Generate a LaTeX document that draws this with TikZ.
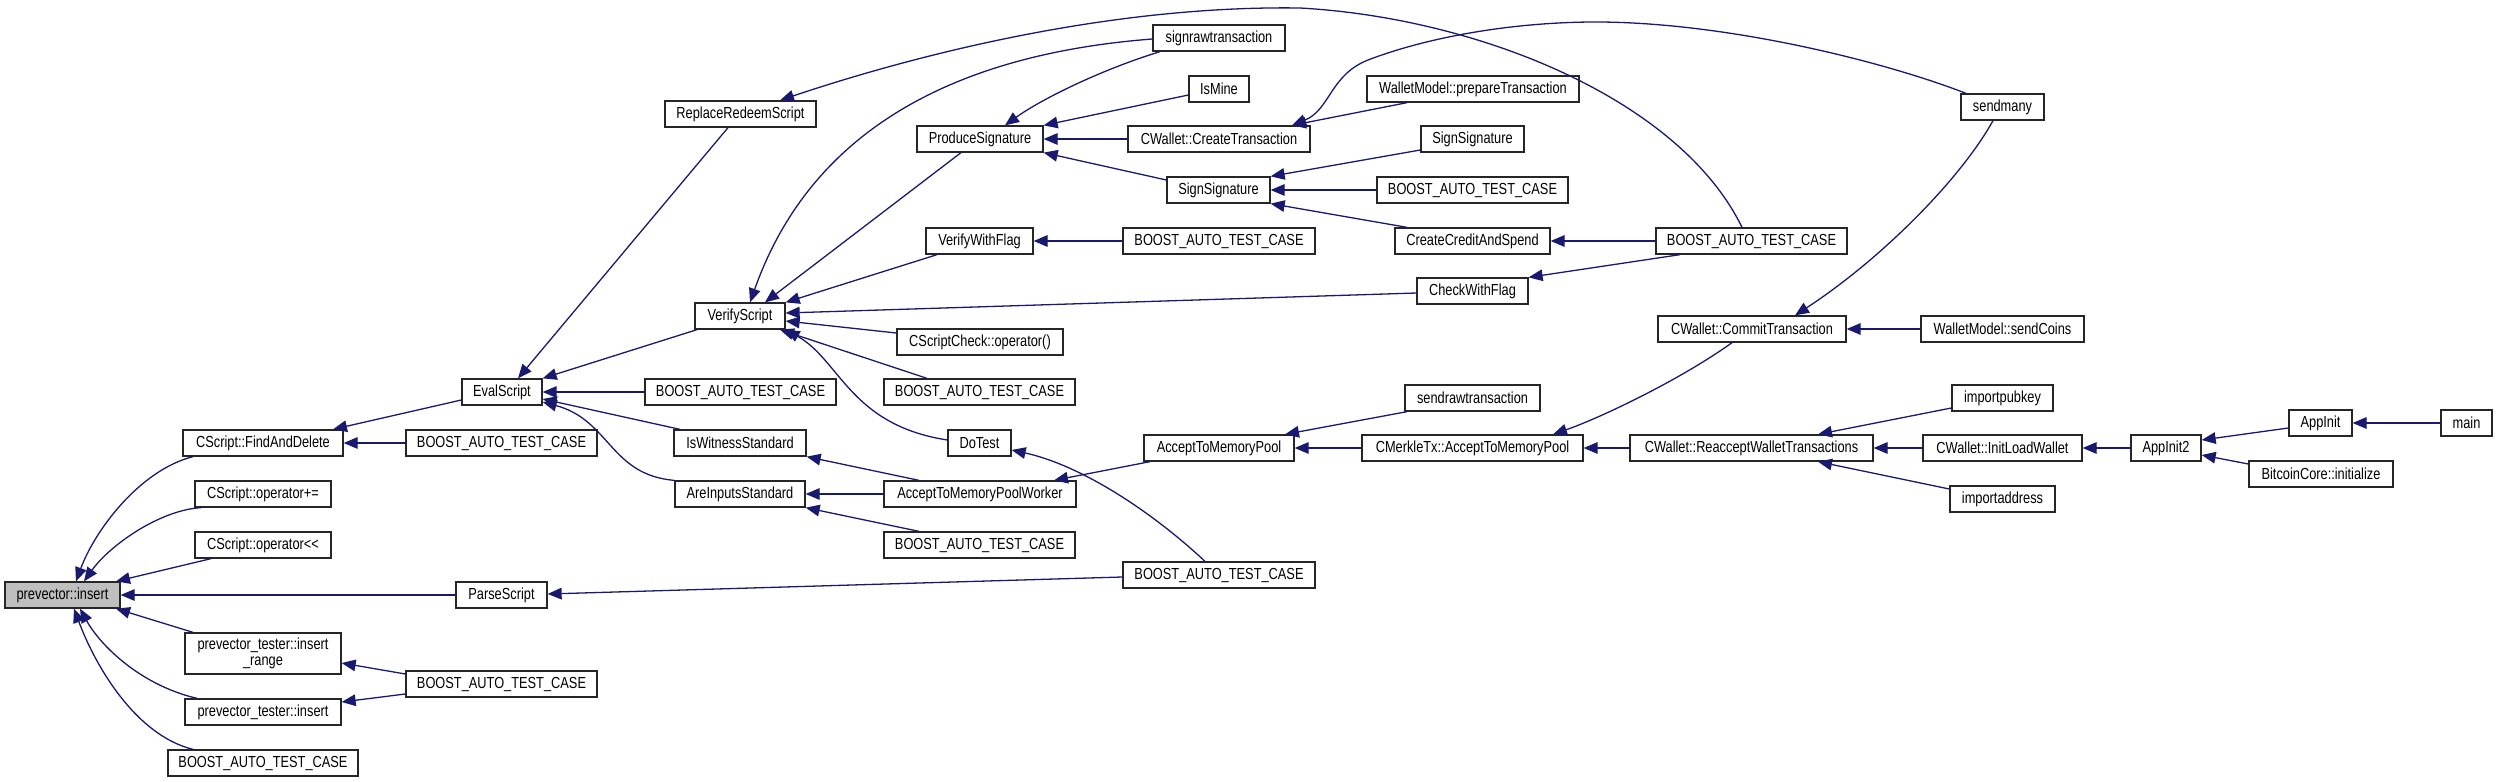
\documentclass[tikz,border=0pt]{standalone}
\usepackage{fontspec}
\setmainfont[FakeStretch=0.8]{Liberation Sans}
\usetikzlibrary{arrows.meta}
\definecolor{edgeblue}{HTML}{191970}
\definecolor{nodegray}{HTML}{BFBFBF}
\tikzset{
  box/.style={draw=black!85, line width=0.65pt, fill=white, inner sep=0pt,
    font=\fontsize{8}{7.7}\selectfont, align=center},
  calls/.style={draw=edgeblue, line width=0.65pt,
    {Triangle[length=7pt,width=5.8pt,fill=edgeblue]}-},
}
\newcommand\bx[7][]{\node[box,#1,minimum width={(#5-#3)*0.5pt},minimum height={(#6-#4)*0.5pt}] (#2) at ({(#3+#5)/2},{(#4+#6)/2}) {#7};}
\newcommand\btc{BOOST\_AUTO\_TEST\_CASE}
\begin{document}
\begin{tikzpicture}[x=0.5pt,y=-0.5pt]
\useasboundingbox (0,0) rectangle (2497,782);
% nodes
\bx[fill=nodegray]{insert}{5}{582}{120}{608}{prevector::insert}
\bx{fad}{183}{430}{343}{456}{CScript::FindAndDelete}
\bx{opadd}{195}{481}{331}{507}{CScript::operator+=}
\bx{opshl}{195}{532}{331}{558}{CScript::operator<{}<}
\bx{parse}{456}{582}{547}{608}{ParseScript}
\bx{ir}{185}{633}{341}{674}{prevector\_tester::insert\\\_range}
\bx{pti}{185}{699}{341}{725}{prevector\_tester::insert}
\bx{bA}{168}{750}{358}{776}{\btc}
\bx{bB}{406}{430}{597}{456}{\btc}
\bx{bC}{406}{671}{597}{697}{\btc}
\bx{eval}{462}{379}{542}{405}{EvalScript}
\bx{rrs}{665}{101}{816}{127}{ReplaceRedeemScript}
\bx{verify}{695}{303}{785}{329}{VerifyScript}
\bx{bD}{645}{379}{836}{405}{\btc}
\bx{iws}{674}{430}{806}{456}{IsWitnessStandard}
\bx{ais}{675}{481}{805}{507}{AreInputsStandard}
\bx{sraw}{1153}{25}{1285}{51}{signrawtransaction}
\bx{prod}{917}{126}{1043}{152}{ProduceSignature}
\bx{vwf}{926}{228}{1033}{254}{VerifyWithFlag}
\bx{csc}{897}{329}{1063}{355}{CScriptCheck::operator()}
\bx{bE}{884}{379}{1075}{405}{\btc}
\bx{dotest}{948}{430}{1011}{456}{DoTest}
\bx{atmpw}{884}{481}{1076}{507}{AcceptToMemoryPoolWorker}
\bx{bF}{884}{532}{1075}{558}{\btc}
\bx{ismine}{1189}{76}{1249}{102}{IsMine}
\bx{ctx}{1128}{126}{1310}{152}{CWallet::CreateTransaction}
\bx{ssA}{1167}{177}{1270}{203}{SignSignature}
\bx{bG}{1123}{228}{1315}{254}{\btc}
\bx{bH}{1123}{562}{1315}{588}{\btc}
\bx{atmp}{1144}{435}{1294}{461}{AcceptToMemoryPool}
\bx{wmpt}{1367}{76}{1579}{102}{WalletModel::prepareTransaction}
\bx{ssB}{1421}{126}{1524}{152}{SignSignature}
\bx{bI}{1377}{177}{1568}{203}{\btc}
\bx{ccas}{1395}{228}{1550}{254}{CreateCreditAndSpend}
\bx{cwf}{1417}{278}{1528}{304}{CheckWithFlag}
\bx{sendraw}{1405}{385}{1540}{411}{sendrawtransaction}
\bx{merkle}{1362}{435}{1583}{461}{CMerkleTx::AcceptToMemoryPool}
\bx{bJ}{1656}{228}{1847}{254}{\btc}
\bx{commit}{1658}{316}{1846}{342}{CWallet::CommitTransaction}
\bx{reaccept}{1630}{435}{1873}{461}{CWallet::ReacceptWalletTransactions}
\bx{sendmany}{1961}{94}{2044}{120}{sendmany}
\bx{sendcoins}{1921}{316}{2084}{342}{WalletModel::sendCoins}
\bx{pubkey}{1952}{385}{2053}{411}{importpubkey}
\bx{ilw}{1923}{435}{2082}{461}{CWallet::InitLoadWallet}
\bx{addr}{1950}{486}{2055}{512}{importaddress}
\bx{appinit2}{2131}{435}{2201}{461}{AppInit2}
\bx{appinit}{2289}{410}{2352}{436}{AppInit}
\bx{bci}{2249}{461}{2393}{487}{BitcoinCore::initialize}
\bx{main}{2441}{410}{2492}{436}{main}
% edges
\draw[calls] (insert.north -| 76,0) .. controls (95,530) and (140,470) .. (fad.south -| 193,0);
\draw[calls] (insert.north -| 84,0) .. controls (110,545) and (160,510) .. (opadd.south -| 201,0);
\draw[calls] (insert.north -| 116,0) -- (opshl.south -| 211,0);
\draw[calls] (insert.east |- 0,595) -- (parse.west |- 0,595);
\draw[calls] (insert.south -| 116,0) -- (ir.north -| 193,0);
\draw[calls] (insert.south -| 80,0) .. controls (100,645) and (140,685) .. (pti.north -| 197,0);
\draw[calls] (insert.south -| 74,0) .. controls (95,665) and (135,735) .. (bA.north -| 193,0);
\draw[calls] (fad.north -| 333,0) -- (eval.west |- 0,400);
\draw[calls] (fad.east |- 0,443) -- (bB.west |- 0,443);
\draw[calls] (ir.east |- 0,663) -- (bC.west |- 0,674);
\draw[calls] (pti.east |- 0,702) -- (bC.west |- 0,694);
\draw[calls] (parse.east |- 0,594) -- (bH.west |- 0,577);
\draw[calls] (eval.north -| 518,0) -- (rrs.south -| 728,0);
\draw[calls] (eval.north east) -- (verify.south -| 697,0);
\draw[calls] (eval.east |- 0,392) -- (bD.west |- 0,392);
\draw[calls] (eval.east |- 0,399) -- (iws.north -| 680,0);
\draw[calls] (eval.east |- 0,402) .. controls (610,420) and (610,475) .. (ais.north west);
\draw[calls] (rrs.north -| 780,0) .. controls (900,60) and (1100,5) .. (1300,8) .. controls (1480,18) and (1680,100) .. (bJ.north -| 1742,0);
\draw[calls] (verify.north -| 750,0) .. controls (790,190) and (880,60) .. (sraw.west |- 0,39);
\draw[calls] (verify.north -| 765,0) -- (prod.south -| 961,0);
\draw[calls] (verify.north east) -- (vwf.south -| 937,0);
\draw[calls] (verify.east |- 0,313) -- (cwf.west |- 0,293);
\draw[calls] (verify.east |- 0,321) -- (csc.west |- 0,333);
\draw[calls] (verify.south -| 780,0) -- (bE.north -| 927,0);
\draw[calls] (verify.south east) .. controls (840,360) and (850,425) .. (dotest.west |- 0,440);
\draw[calls] (prod.north -| 1005,0) .. controls (1040,100) and (1100,70) .. (sraw.south -| 1160,0);
\draw[calls] (prod.north east) -- (ismine.west |- 0,95);
\draw[calls] (prod.east |- 0,139) -- (ctx.west |- 0,139);
\draw[calls] (prod.south east) -- (ssA.west |- 0,180);
\draw[calls] (vwf.east |- 0,241) -- (bG.west |- 0,241);
\draw[calls] (ctx.north -| 1292,0) -- (wmpt.south -| 1407,0);
\draw[calls] (ctx.north -| 1292,0) .. controls (1330,110) and (1330,75) .. (1368,60) .. controls (1420,40) and (1500,23) .. (1590,22) .. controls (1720,21) and (1880,60) .. (sendmany.north -| 1966,0);
\draw[calls] (ssA.north east) -- (ssB.west |- 0,150);
\draw[calls] (ssA.east |- 0,190) -- (bI.west |- 0,190);
\draw[calls] (ssA.south east) -- (ccas.north -| 1407,0);
\draw[calls] (ccas.east |- 0,241) -- (bJ.west |- 0,241);
\draw[calls] (cwf.north east) -- (bJ.south -| 1680,0);
\draw[calls] (iws.south east) -- (atmpw.north -| 919,0);
\draw[calls] (ais.east |- 0,494) -- (atmpw.west |- 0,494);
\draw[calls] (ais.south east) -- (bF.north -| 919,0);
\draw[calls] (dotest.east |- 0,450) .. controls (1080,465) and (1150,510) .. (bH.north -| 1205,0);
\draw[calls] (atmpw.north -| 1054,0) -- (atmp.south -| 1150,0);
\draw[calls] (atmp.north -| 1285,0) -- (sendraw.south -| 1407,0);
\draw[calls] (atmp.east |- 0,448) -- (merkle.west |- 0,448);
\draw[calls] (merkle.north -| 1553,0) .. controls (1600,418) and (1680,380) .. (commit.south -| 1732,0);
\draw[calls] (merkle.east |- 0,448) -- (reaccept.west |- 0,448);
\draw[calls] (commit.north -| 1795,0) .. controls (1880,260) and (1960,180) .. (sendmany.south -| 1993,0);
\draw[calls] (commit.east |- 0,329) -- (sendcoins.west |- 0,329);
\draw[calls] (reaccept.north -| 1818,0) -- (pubkey.west |- 0,408);
\draw[calls] (reaccept.east |- 0,448) -- (ilw.west |- 0,448);
\draw[calls] (reaccept.south -| 1818,0) -- (addr.west |- 0,489);
\draw[calls] (ilw.east |- 0,448) -- (appinit2.west |- 0,448);
\draw[calls] (appinit2.east |- 0,440) -- (appinit.west |- 0,428);
\draw[calls] (appinit2.east |- 0,455) -- (bci.west |- 0,464);
\draw[calls] (appinit.east |- 0,423) -- (main.west |- 0,423);
\end{tikzpicture}
\end{document}
